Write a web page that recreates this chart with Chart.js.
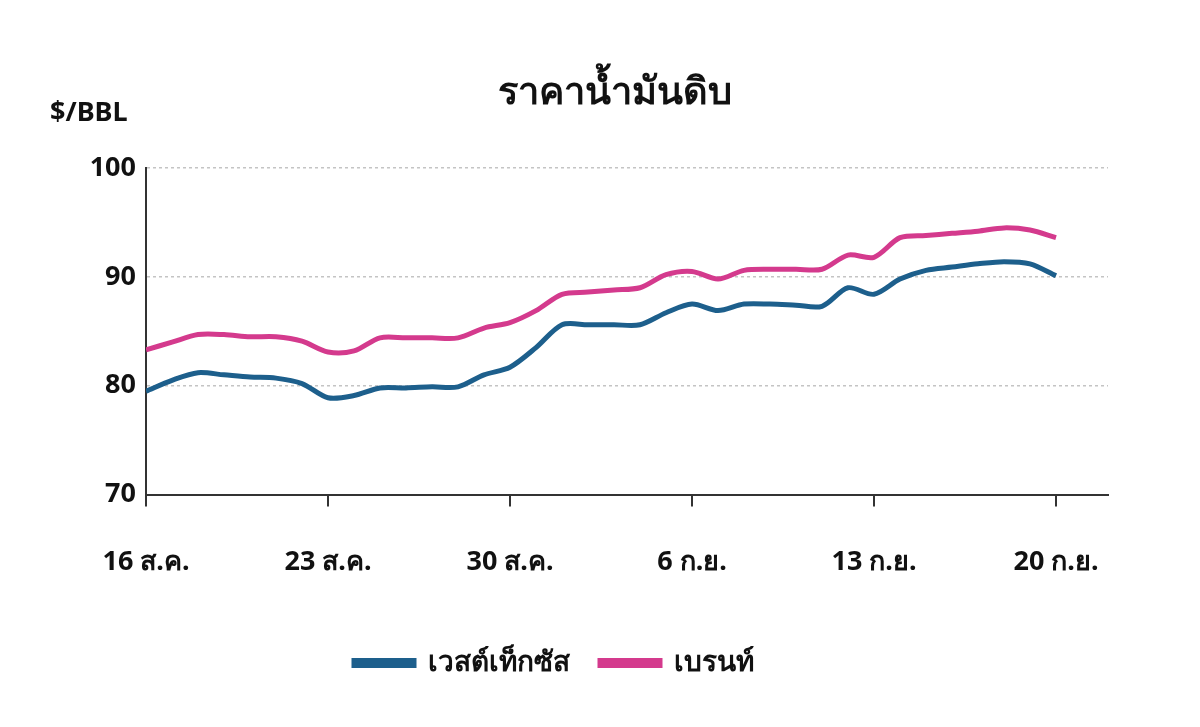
<!DOCTYPE html>
<html><head><meta charset="utf-8">
<script src="https://cdn.jsdelivr.net/npm/chart.js@4"></script>
<style>
body{margin:0;background:#fff;font-family:"Noto Sans",sans-serif}
#wrap{position:relative;width:1200px;height:727px}
#title{position:absolute;top:60px;left:0;width:1230px;text-align:center;font-size:38px;font-weight:bold;color:#111}
#unit{position:absolute;top:92px;left:50px;font-size:27px;font-weight:bold;color:#111}
</style></head>
<body><div id="wrap">
<canvas id="myChart" width="1200" height="727"></canvas>
<div id="title">ราคาน้ำมันดิบ</div>
<div id="unit">$/BBL</div>
</div>
<script>
const days = ['16','17','18','19','20','21','22','23','24','25','26','27','28','29','30','31',
  '1','2','3','4','5','6','7','8','9','10','11','12','13','14','15','16','17','18','19','20'];
const tickLabels = ['16 ส.ค.','23 ส.ค.','30 ส.ค.','6 ก.ย.','13 ก.ย.','20 ก.ย.'];
const wti = [79.5,80.5,81.2,81.0,80.8,80.7,80.2,78.9,79.1,79.8,79.8,79.9,79.9,81.0,81.7,83.5,
  85.6,85.6,85.6,85.6,86.7,87.5,86.9,87.5,87.5,87.4,87.3,89.0,88.4,89.8,90.6,90.9,91.2,91.4,91.2,90.1];
const brent = [83.3,84.0,84.7,84.7,84.5,84.5,84.1,83.1,83.2,84.4,84.4,84.4,84.4,85.3,85.8,86.9,
  88.4,88.6,88.8,89.0,90.2,90.5,89.8,90.6,90.7,90.7,90.7,92.0,91.8,93.6,93.8,94.0,94.2,94.5,94.3,93.6];

const font = {family:'"Noto Sans", sans-serif', size:27, weight:'bold'};
const toPts = arr => arr.map((v,i) => ({x:i, y:v}));

new Chart(document.getElementById('myChart'), {
  type:'line',
  data:{datasets:[
    {label:'เวสต์เท็กซัส', data:toPts(wti), borderColor:'#1d5f8c', backgroundColor:'#1d5f8c', borderWidth:5, pointRadius:0, tension:0.3},
    {label:'เบรนท์', data:toPts(brent), borderColor:'#d43a8d', backgroundColor:'#d43a8d', borderWidth:5, pointRadius:0, tension:0.3}
  ]},
  options:{
    responsive:false, animation:false,
    layout:{padding:{top:168,right:92,left:0,bottom:40}},
    scales:{
      x:{type:'linear', min:0, max:37,
        afterBuildTicks:s=>{s.ticks=[0,7,14,21,28,35].map(v=>({value:v}));},
        ticks:{font, color:'#111', padding:40, callback:(v)=>tickLabels[v/7]},
        grid:{drawOnChartArea:false, tickLength:12, color:'#333', lineWidth:2},
        border:{color:'#333', width:2}},
      y:{min:70, max:100,
        afterFit:s=>{s.width=146;},
        ticks:{font, color:'#111', stepSize:10, padding:10},
        grid:{color:'#c4c4c4', lineWidth:1.5, drawTicks:false},
        border:{color:'#333', width:2, dash:[3,3]}}
    },
    plugins:{
      legend:{position:'bottom', labels:{font:{...font,size:28}, color:'#111', boxWidth:60, boxHeight:5, padding:30}},
      tooltip:{enabled:false}
    }
  }
});
</script>
</body></html>
